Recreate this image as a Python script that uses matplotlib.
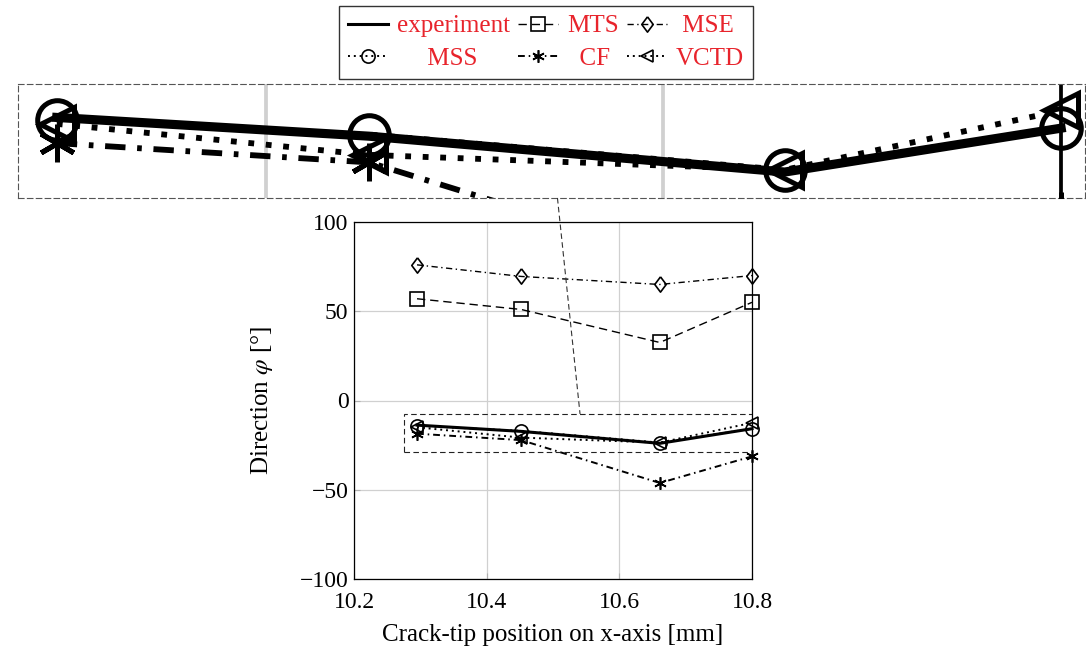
import matplotlib
matplotlib.use("Agg")
import matplotlib.pyplot as plt
from matplotlib.patches import Rectangle
from matplotlib.lines import Line2D

# crack-tip positions [mm] and predicted directions [deg]
positions = [10.295, 10.452, 10.661, 10.8]
experiment = [-13.8, -17.3, -24.0, -15.8]
mts = [57, 51, 32.5, 55]
mse = [76, 69.5, 65, 70]
mss = [-14.2, -17.0, -23.6, -15.8]
cf = [-18.6, -22.2, -46.2, -31.3]
vctd = [-15.0, -20.8, -23.6, -12.5]

x_ticks = [10.2, 10.4, 10.6, 10.8]
y_ticks = [-100, -50, 0, 50, 100]

# zoomed (spy) window in data coords
zoom_x = (10.2755, 10.812)
zoom_y = (-28.85, -7.55)
mag = 3

plt.rcParams["font.family"] = ["Liberation Serif", "DejaVu Serif"]
plt.rcParams["mathtext.fontset"] = "stix"

asterisk = (6, 2, 0)
diamond = [(0, 1), (0.75, 0), (0, -1), (-0.75, 0), (0, 1)]
series = [
    ("experiment", experiment, dict(ls="-", lw=2.2, marker=None)),
    ("MTS", mts, dict(ls=(0, (6, 3.5)), lw=1.0, marker="s", ms=9.5)),
    ("MSE", mse, dict(ls=(0, (4.5, 2.5, 1, 2.5)), lw=1.0, marker=diamond, ms=11)),
    ("MSS", mss, dict(ls=(0, (1, 2)), lw=1.4, marker="o", ms=9.5)),
    ("CF", cf, dict(ls=(0, (3.5, 2, 0.8, 2)), lw=1.4, marker=asterisk, ms=9)),
    ("VCTD", vctd, dict(ls=(0, (1, 2)), lw=1.4, marker="<", ms=8)),
]

fig = plt.figure(figsize=(10.86, 6.46), dpi=100)
ax = fig.add_axes([354 / 1086, 67 / 646, 398 / 1086, 357 / 646])
ax_in = fig.add_axes([18 / 1086, 448 / 646, 1067 / 1086, 114 / 646])

handles = {}
for name, vals, st in series:
    ms = st.get("ms", 0)
    h, = ax.plot(positions, vals, color="black", ls=st["ls"], lw=st["lw"],
                 marker=st["marker"], ms=ms, mfc="none", mew=1.2,
                 clip_on=False, zorder=3)
    handles[name] = h
    ax_in.plot(positions, vals, color="black", ls=st["ls"], lw=st["lw"] * mag,
               marker=st["marker"], ms=ms * mag, mfc="none", mew=1.2 * mag,
               zorder=3)

ax.set_xlim(10.2, 10.8)
ax.set_ylim(-100, 100)
ax.set_xticks(x_ticks)
ax.set_xticklabels([f"{v:.1f}" for v in x_ticks])
ax.set_yticks(y_ticks)
ax.set_yticklabels([f"{v:d}".replace("-", "\u2212") for v in y_ticks])
ax.grid(True, color="#d0d0d0", lw=0.9)
ax.set_axisbelow(True)
ax.tick_params(direction="in", length=4, color="#b0b0b0", labelsize=17)
ax.tick_params(axis="y", pad=4)
ax.tick_params(axis="x", pad=9)
for s in ax.spines.values():
    s.set_linewidth(0.9)
ax.set_xlabel("Crack-tip position on x-axis [mm]", fontsize=18, labelpad=8)
ax.set_ylabel(r"Direction $\varphi$ [°]", fontsize=18, labelpad=18)

# dashed box marking the magnified region
ax.add_patch(Rectangle((zoom_x[0], zoom_y[0]), zoom_x[1] - zoom_x[0],
                       zoom_y[1] - zoom_y[0], fill=False, ls=(0, (5, 3)),
                       lw=0.8, ec="#222222", zorder=4))

# magnified view
ax_in.set_xlim(*zoom_x)
ax_in.set_ylim(*zoom_y)
ax_in.set_xticks([])
ax_in.set_yticks([])
for gx in x_ticks[1:3]:
    ax_in.axvline(gx, color="#d0d0d0", lw=0.9 * mag, zorder=1)
ax_in.axvline(x_ticks[-1], color="black", lw=0.9 * mag, zorder=2)
for s in ax_in.spines.values():
    s.set_linestyle((0, (5, 3)))
    s.set_linewidth(0.8)
    s.set_edgecolor("#555555")

# connector between the two boxes (line of centres, drawn outside both)
to_fig = fig.transFigure.inverted()
c_rect = to_fig.transform(ax.transData.transform(
    ((zoom_x[0] + zoom_x[1]) / 2, (zoom_y[0] + zoom_y[1]) / 2)))
top_rect = to_fig.transform(ax.transData.transform((zoom_x[0], zoom_y[1])))[1]
pos_in = ax_in.get_position()
c_in = ((pos_in.x0 + pos_in.x1) / 2, (pos_in.y0 + pos_in.y1) / 2)


def x_at(y):
    t = (y - c_in[1]) / (c_rect[1] - c_in[1])
    return c_in[0] + t * (c_rect[0] - c_in[0])


fig.add_artist(Line2D([x_at(pos_in.y0), x_at(top_rect)], [pos_in.y0, top_rect],
                      transform=fig.transFigure, color="#333333", lw=0.8,
                      ls=(0, (5, 3))))

# legend: labels centred within their column (leading spaces)
leg_fs = 18
order = ["experiment", "MSS", "MTS", "CF", "MSE", "VCTD"]
renderer = fig.canvas.get_renderer()


def text_w(s):
    t = fig.text(0, 0, s, fontsize=leg_fs)
    w = t.get_window_extent(renderer).width
    t.remove()
    return w


space_w = text_w("a a") - text_w("aa")
labels = []
for i in range(0, len(order), 2):
    col = order[i:i + 2]
    widths = [text_w(s) for s in col]
    for s, w in zip(col, widths):
        n = int(round((max(widths) - w) / 2 / space_w))
        labels.append(" " * n + s)

leg = fig.legend([handles[n] for n in order], labels, ncol=3,
                 loc="upper center", bbox_to_anchor=(546 / 1086, 640 / 646),
                 fontsize=leg_fs, frameon=True, fancybox=False, edgecolor="black",
                 handlelength=1.6, columnspacing=0.35, handletextpad=0.35,
                 labelspacing=0.4, borderpad=0.35, borderaxespad=0)
leg.get_frame().set_linewidth(1.0)
for t in leg.get_texts():
    t.set_color("#e8242c")

fig.savefig("out.png", dpi=100)
